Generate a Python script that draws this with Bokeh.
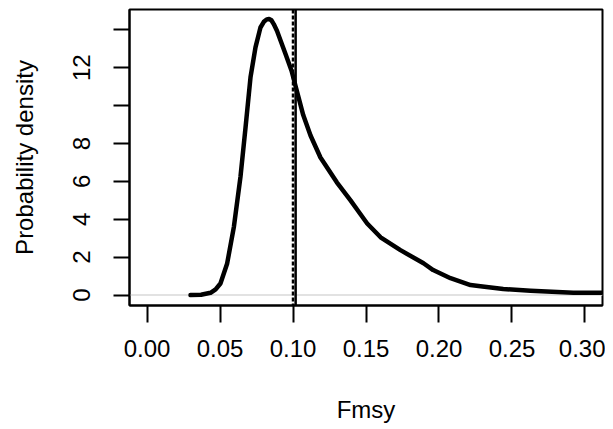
from bokeh.plotting import figure
from bokeh.models import Range1d, FixedTicker, NumeralTickFormatter, Span
from bokeh.embed import file_html
from bokeh.resources import INLINE

# Density curve of Fmsy
fmsy = [0.0298, 0.037, 0.0435, 0.0470, 0.0503, 0.0549, 0.0595, 0.0640, 0.0675,
        0.0709, 0.0743, 0.0777, 0.0800, 0.0820, 0.0836, 0.0852, 0.0868, 0.0890,
        0.0914, 0.0950, 0.0990, 0.1022, 0.1070, 0.1120, 0.1188, 0.1300, 0.1394,
        0.1450, 0.1508, 0.1600, 0.1736, 0.1894, 0.1960, 0.2079, 0.2216, 0.2284,
        0.2440, 0.2627, 0.2920, 0.3120, 0.3200]
density = [0.00, 0.02, 0.12, 0.30, 0.61, 1.67, 3.60, 6.23, 8.86,
           11.50, 13.07, 14.12, 14.42, 14.55, 14.57, 14.50, 14.30, 13.95,
           13.45, 12.70, 11.84, 10.90, 9.50, 8.42, 7.26, 5.95, 5.00,
           4.40, 3.78, 3.05, 2.37, 1.68, 1.32, 0.89, 0.53, 0.47,
           0.32, 0.23, 0.12, 0.12, 0.11]

ref_dashed = 0.1000
ref_solid = 0.1018

x_ticks = [0.00, 0.05, 0.10, 0.15, 0.20, 0.25, 0.30]
y_ticks = [0, 2, 4, 6, 8, 10, 12, 14]
y_hidden = {10: "", 14: ""}

FONT = "Liberation Sans"
FS = "24px"

p = figure(width=605, height=428, output_backend="svg", toolbar_location=None,
           x_range=Range1d(-0.012, 0.312), y_range=Range1d(-0.55, 15.07),
           min_border_left=129, min_border_right=3, min_border_top=9,
           min_border_bottom=123)

p.grid.visible = False
p.background_fill_color = "white"
p.border_fill_color = "white"
p.outline_line_color = "black"
p.outline_line_width = 2

zero = Span(location=0, dimension="width", line_color="#d9d9d9", line_width=1.5,
            level="underlay")
p.add_layout(zero)

p.line(fmsy, density, line_color="black", line_width=4.5, line_join="round",
       line_cap="round")

p.add_layout(Span(location=ref_dashed, dimension="height", line_color="black",
                  line_width=2.5, line_dash="4 2"))
p.add_layout(Span(location=ref_solid, dimension="height", line_color="black",
                  line_width=2.5))

for ax in (p.xaxis[0], p.yaxis[0]):
    ax.axis_line_color = "black"
    ax.axis_line_width = 2
    ax.major_tick_line_color = "black"
    ax.major_tick_line_width = 2
    ax.major_tick_in = 0
    ax.minor_tick_line_color = None
    ax.major_label_text_font = FONT
    ax.major_label_text_font_size = FS
    ax.major_label_text_color = "black"
    ax.axis_label_text_font = FONT
    ax.axis_label_text_font_size = FS
    ax.axis_label_text_font_style = "normal"
    ax.axis_label_text_color = "black"

xa = p.xaxis[0]
xa.ticker = FixedTicker(ticks=x_ticks)
xa.formatter = NumeralTickFormatter(format="0.00")
xa.major_tick_out = 17
xa.major_label_standoff = 17
xa.axis_label = "Fmsy"
xa.axis_label_standoff = 36

ya = p.yaxis[0]
ya.ticker = FixedTicker(ticks=y_ticks)
ya.major_label_overrides = y_hidden
ya.major_label_orientation = "vertical"
ya.major_tick_out = 16
ya.major_label_standoff = 23
ya.axis_label = "Probability density"
ya.axis_label_standoff = 33

open("out.html", "w").write(file_html(p, INLINE))
